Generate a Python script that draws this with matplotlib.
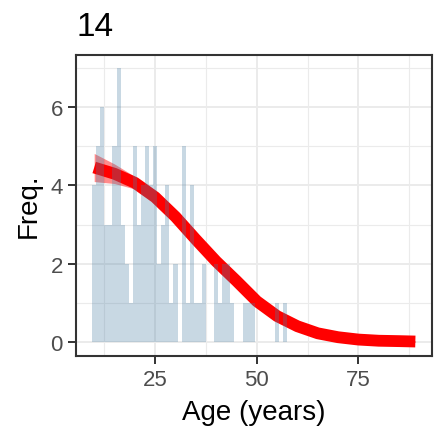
import numpy as np
import matplotlib.pyplot as plt
from matplotlib.ticker import MultipleLocator

# histogram counts per year of age (binwidth 1, centred on whole years)
ages = list(range(10, 58))
counts = [4, 5, 6, 3, 3, 5, 7, 3, 2, 1,
          5, 3, 4, 5, 4, 5, 2, 3, 4, 1,
          2, 0, 5, 1, 4, 1, 1, 2, 0, 0,
          2, 1, 2, 2, 1, 0, 0, 1, 1, 1,
          0, 0, 0, 0, 0, 1, 0, 1]

# smoothed fit
fit_x = [10, 15, 20, 25, 30, 35, 40, 45, 50, 55, 60, 65, 70, 75, 80, 85, 89]
fit_y = [4.46, 4.30, 4.07, 3.70, 3.20, 2.62, 2.06, 1.56, 1.04, 0.66, 0.40, 0.22, 0.12, 0.06, 0.03, 0.02, 0.01]
fit_se = [0.36, 0.25, 0.16, 0.12, 0.11, 0.11, 0.11, 0.11, 0.10, 0.09, 0.07, 0.05, 0.04, 0.03, 0.02, 0.02, 0.02]

title = "14"
xlab = "Age (years)"
ylab = "Freq."

plt.rcParams['font.family'] = ['Liberation Sans', 'DejaVu Sans']

fig = plt.figure(figsize=(4.4, 4.35), dpi=100)
ax = fig.add_axes([76 / 440, 1 - 356.6 / 435, 355.5 / 440, (356.6 - 55.5) / 435])

fx = np.array(fit_x)
fy = np.array(fit_y)
se = np.array(fit_se)

# ribbon + thick red line, bars on top with alpha
ax.fill_between(fx, fy - se, fy + se, color='red', alpha=0.45, linewidth=0, zorder=2)
ax.plot(fx, fy, color='red', linewidth=8.5, solid_capstyle='butt', solid_joinstyle='round', zorder=3)
ax.bar(ages, counts, width=1.0, color='#4a7fa5', alpha=0.3, linewidth=0, zorder=4)

# ggplot-like limits (5% expansion)
lo = ages[0] - 0.5
hi = max(fit_x[-1], ages[-1] + 0.5)
ax.set_xlim(lo - 0.05 * (hi - lo), hi + 0.05 * (hi - lo))
ax.set_ylim(-0.35, 7.35)

ax.xaxis.set_major_locator(MultipleLocator(25))
ax.xaxis.set_minor_locator(MultipleLocator(12.5))
ax.yaxis.set_major_locator(MultipleLocator(2))
ax.yaxis.set_minor_locator(MultipleLocator(1))

ax.grid(which='major', color='#EBEBEB', linewidth=1.4, zorder=0)
ax.grid(which='minor', color='#EBEBEB', linewidth=0.8, zorder=0)
ax.set_axisbelow(True)

for s in ax.spines.values():
    s.set_color('#333333')
    s.set_linewidth(1.5)

ax.tick_params(which='major', length=5.5, width=1.4, color='#333333',
               labelsize=16, labelcolor='#4D4D4D', pad=4)
ax.tick_params(which='minor', length=0)

ax.set_xlabel(xlab, fontsize=20, color='black', labelpad=6.5)
ax.set_ylabel(ylab, fontsize=20, color='black', labelpad=6)
ax.set_title(title, loc='left', fontsize=24, pad=14)

fig.savefig('out.png', dpi=100)
